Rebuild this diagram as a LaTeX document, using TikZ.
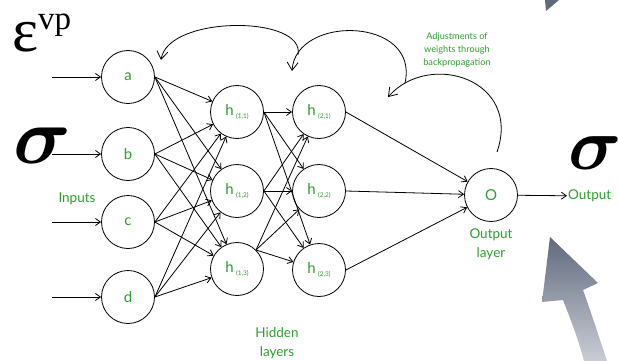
\RequirePackage{fix-cm}
\documentclass[tikz,border=0pt]{standalone}
\usepackage{amsmath}
\usepackage{fontspec}
\setmainfont{Lato}
\newfontfamily\symbolserif{Liberation Serif}
\usetikzlibrary{arrows.meta, positioning}
\definecolor{labelGreen}{RGB}{46, 158, 46}
\definecolor{slateTop}{RGB}{96, 106, 126}
\definecolor{slateBottom}{RGB}{202, 205, 212}
\tikzset{
    % Neuron circles
    neuron/.style={
        circle,
        draw=black,
        line width=0.8pt,
        minimum size=53pt,
        inner sep=0pt,
        font=\fontsize{15}{17}\selectfont,
        text=labelGreen
    },
    % Connector styles
    link/.style={-{Straight Barb[length=5pt, width=7pt]}, line width=0.8pt},
    backprop/.style={-{Straight Barb[length=8pt, width=11pt]}, line width=0.8pt},
    % Text styles
    caption/.style={font=\fontsize{13.5}{19}\selectfont, text=labelGreen, align=center},
    note/.style={font=\fontsize{9.2}{13}\selectfont, text=labelGreen, align=center},
    bigsymbol/.style={font=\symbolserif\fontsize{62}{62}\selectfont, inner sep=0pt, anchor=base west}
}
\newcommand{\hsub}[1]{h\,{\fontsize{6.5}{6.5}\selectfont\raisebox{-3.5pt}{(#1)}}}

\begin{document}
\begin{tikzpicture}[x=1pt, y=-1pt]

    \useasboundingbox (0,0) rectangle (618,361);

    % --- INPUT LAYER ---
    \node (a) [neuron] at (128,77) {a};
    \node (b) [neuron] at (128,154) {b};
    \node (c) [neuron] at (128,222) {c};
    \node (d) [neuron] at (128,297) {d};

    % --- HIDDEN LAYERS ---
    \node (h11) [neuron] at (237,112) {\hsub{1,1}};
    \node (h12) [neuron] at (237,191) {\hsub{1,2}};
    \node (h13) [neuron] at (237,269) {\hsub{1,3}};

    \node (h21) [neuron] at (319,112) {\hsub{2,1}};
    \node (h22) [neuron] at (319,191) {\hsub{2,2}};
    \node (h23) [neuron] at (319,270) {\hsub{2,3}};

    % --- OUTPUT LAYER ---
    \node (o) [neuron] at (491,195) {O};
    \node (out) [caption, anchor=west, inner sep=1pt] at (567,196) {Output};

    % --- Labels ---
    \node (inputsLabel) [caption] at (77,199) {Inputs};
    \node (hiddenLabel) [caption] at (277,343) {Hidden\\layers};
    \node (outputLabel) [caption, below=3pt of o] {Output\\layer};
    \node (adjustLabel) [note] at (457,50) {Adjustments of\\weights through\\backpropagation};

    % --- Input arrows ---
    \coordinate (inA) at (52,77);
    \coordinate (inB) at (52,154);
    \coordinate (inC) at (52,222);
    \coordinate (inD) at (52,297);
    \draw [link] (inA) -- (a);
    \draw [link] (inB) -- (b);
    \draw [link] (inC) -- (c);
    \draw [link] (inD) -- (d);

    % --- Inputs to first hidden layer ---
    \draw [link] (a.east) -- (h11);
    \draw [link] (a.east) -- (h12);
    \draw [link] (a.east) -- (h13);
    \draw [link] (b.east) -- (h11);
    \draw [link] (b.east) -- (h12);
    \draw [link] (b.east) -- (h13);
    \draw [link] (c.east) -- (h11);
    \draw [link] (c.east) -- (h12);
    \draw [link] (c.east) -- (h13);
    \draw [link] (d.east) -- (h11);
    \draw [link] (d.east) -- (h12);
    \draw [link] (d.east) -- (h13);

    % --- First to second hidden layer ---
    \draw [link] (h11.east) -- (h21);
    \draw [link] (h11.east) -- (h22);
    \draw [link] (h11.east) -- (h23);
    \draw [link] (h12.east) -- (h21);
    \draw [link] (h12.east) -- (h22);
    \draw [link] (h12.east) -- (h23);
    \draw [link] (h13.north east) -- (h21);
    \draw [link] (h13.north east) -- (h22);
    \draw [link] (h13.north east) -- (h23);

    % --- Second hidden layer to output ---
    \draw [link] (h21.east) -- (o);
    \draw [link] (h22.east) -- (o);
    \draw [link] (h23.east) -- (o);
    \draw [link] (o) -- (out);

    % --- Backpropagation arcs ---
    \coordinate (bpOneStart) at (298,55);
    \coordinate (bpOneEnd) at (161,60);
    \coordinate (bpTwoStart) at (405,83);
    \coordinate (bpTwoEnd) at (292,71);
    \coordinate (bpThreeStart) at (497,152);
    \coordinate (bpThreeEnd) at (388,97);
    \draw [backprop] (bpOneStart) .. controls (306,15) and (168,15) .. (bpOneEnd);
    \draw [backprop] (bpTwoStart) .. controls (420,17) and (296,14) .. (bpTwoEnd);
    \draw [backprop] (bpThreeStart) .. controls (522,80) and (430,50) .. (bpThreeEnd);

    % --- Symbols ---
    \node (epsilon) [bigsymbol] at (12,52) {ε\raisebox{22pt}{\fontsize{33}{33}\selectfont vp}};
    \node (sigmaL) [bigsymbol, font=\fontsize{80}{80}\selectfont] at (13,163) {$\boldsymbol{\sigma}$};
    \node (sigmaR) [bigsymbol, font=\fontsize{74}{74}\selectfont] at (568,169) {$\boldsymbol{\sigma}$};

    % --- Grey arrows ---
    \fill [slateTop] (545,0) -- (559,0) -- (546,11) -- cycle;
    \shade [top color=slateTop, bottom color=slateBottom]
        (550,237) -- (598,283) -- (583,290)
        .. controls (592,315) and (600,340) .. (607,361)
        -- (584,361)
        .. controls (578,338) and (570,318) .. (563,300)
        -- (542,302) -- cycle;

\end{tikzpicture}
\end{document}
